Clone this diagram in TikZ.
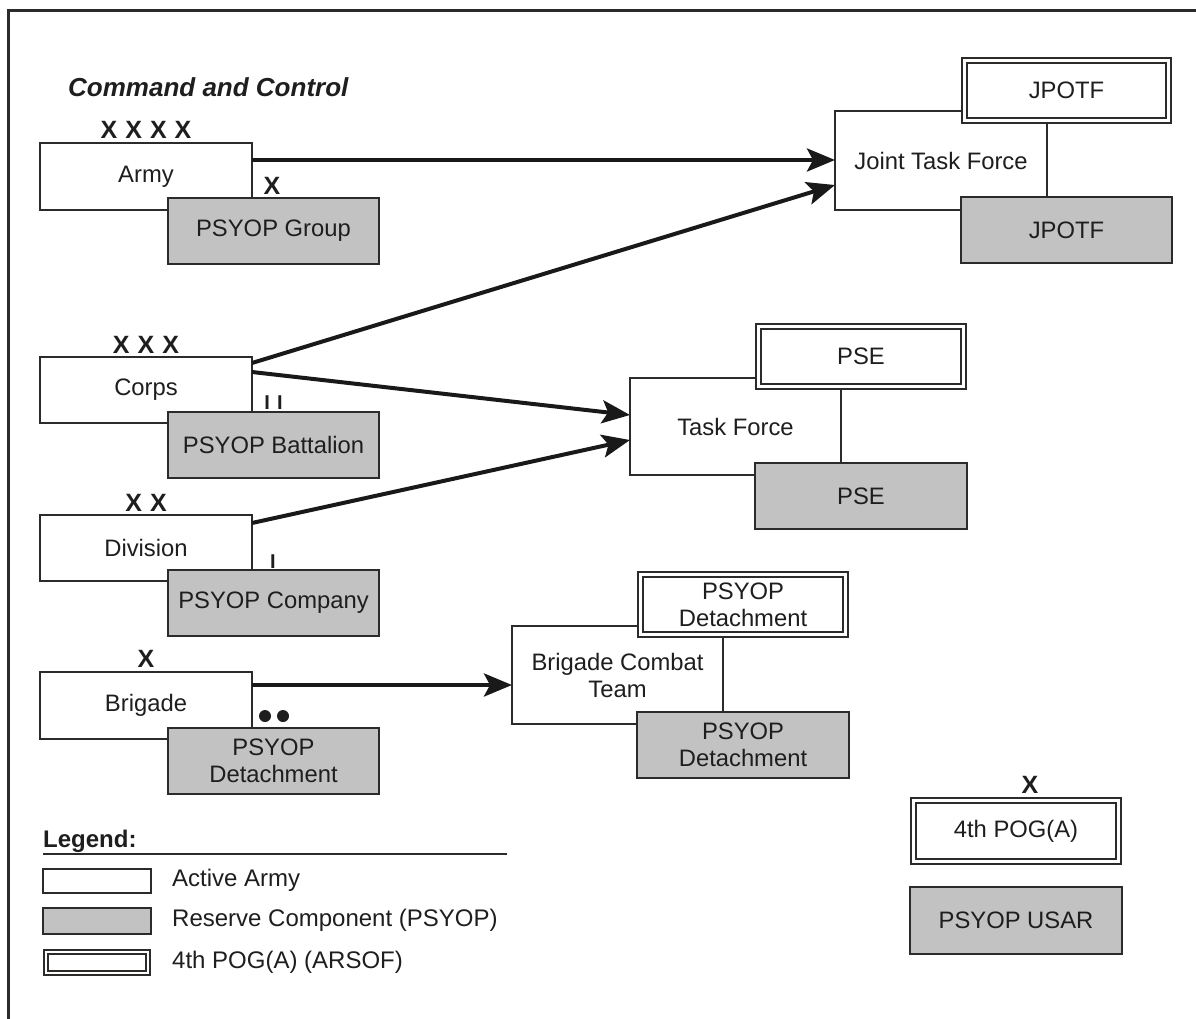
\documentclass[tikz,border=0pt]{standalone}
\usepackage{fontspec}
\setmainfont{Liberation Sans}
\usetikzlibrary{arrows.meta,calc}
\definecolor{boxgray}{RGB}{194,194,194}
\definecolor{linecol}{RGB}{45,42,42}
\definecolor{txtcol}{RGB}{30,30,30}
\tikzset{
  base/.style={draw=linecol, line width=1.8pt, inner sep=0pt, outer sep=0pt, align=center,
     text=txtcol, font=\fontsize{23.8}{27}\selectfont},
  whitebox/.style={base, fill=white},
  graybox/.style={base, fill=boxgray},
  dblbox/.style={base, fill=white, double=white, double distance=3.4pt},
  legdbl/.style={base, fill=white, double=white, double distance=2.4pt, line width=1.6pt},
  rank/.style={font=\fontsize{25}{25}\selectfont\bfseries, text=txtcol, inner sep=0pt},
  bar/.style={font=\fontsize{20}{20}\selectfont\bfseries, text=txtcol, inner sep=0pt},
  conn/.style={line width=4pt, draw=black!90, -{Stealth[length=28pt,width=23pt,inset=6pt]}},
  lgtxt/.style={anchor=west, inner sep=0pt, text=txtcol, font=\fontsize{24}{27}\selectfont},
}
\begin{document}
\begin{tikzpicture}[x=1pt,y=-1pt]
\useasboundingbox (0,0) rectangle (1196,1019);
% frame
\draw[linecol, line width=3pt] (8,1019) -- (8,11) -- (1196,11);

% title
\node[anchor=west, inner sep=0pt, text=txtcol, font=\fontsize{26}{26}\selectfont\bfseries\itshape] (title) at (68,87) {Command and Control};

% left column
\node[whitebox, minimum width=212pt, minimum height=67pt] (army) at (146,176.5) {Army};
\node[graybox, minimum width=211pt, minimum height=66pt] (pgroup) at (273.5,231) {PSYOP Group};
\node[whitebox, minimum width=212pt, minimum height=66pt] (corps) at (146,390) {Corps};
\node[graybox, minimum width=211pt, minimum height=66pt] (pbatt) at (273.5,445) {PSYOP Battalion};
\node[whitebox, minimum width=212pt, minimum height=66pt] (div) at (146,548) {Division};
\node[graybox, minimum width=211pt, minimum height=66pt] (pco) at (273.5,603) {PSYOP Company};
\node[whitebox, minimum width=212pt, minimum height=67pt] (brig) at (146,705.5) {Brigade};
\node[graybox, minimum width=211pt, minimum height=66pt] (pdet) at (273.5,761) {PSYOP\\Detachment};

% rank marks
\node[rank] (r4) at (146,130) {X\hspace{8pt}X\hspace{8pt}X\hspace{8pt}X};
\node[rank] (r3) at (146,345) {X\hspace{8pt}X\hspace{8pt}X};
\node[rank] (r2) at (146,503) {X\hspace{8pt}X};
\node[rank] (r1) at (146,659) {X};
\node[rank] (rg) at (272,186) {X};
\node[bar] (rb) at (273.5,403) {I\hspace{7pt}I};
\node[bar] (rc) at (273,562) {I};
\fill[txtcol] (265,716) circle (6pt) (283,716) circle (6pt);

% Joint task force
\node[whitebox, minimum width=212pt, minimum height=99pt] (jtf) at (941,160.5) {Joint Task Force};
\node[dblbox, minimum width=204pt, minimum height=60pt] (jpotfa) at (1066.5,90.5) {JPOTF};
\node[graybox, minimum width=211pt, minimum height=66pt] (jpotfb) at (1066.5,230) {JPOTF};

% Task force
\node[whitebox, minimum width=211pt, minimum height=97pt] (tf) at (735.5,426.5) {Task Force};
\node[dblbox, minimum width=205pt, minimum height=60pt] (psea) at (861,356.5) {PSE};
\node[graybox, minimum width=212pt, minimum height=66pt] (pseb) at (861,496) {PSE};

% Brigade combat team
\node[whitebox, minimum width=211pt, minimum height=98pt] (bct) at (617.5,675) {Brigade Combat\\Team};
\node[dblbox, minimum width=205pt, minimum height=60pt] (bdeta) at (743,604.5) {PSYOP\\Detachment};
\node[graybox, minimum width=212pt, minimum height=66pt] (bdetb) at (743,745) {PSYOP\\Detachment};

% 4th POG(A) / USAR
\node[rank] (rpog) at (1030,785) {X};
\node[dblbox, minimum width=205pt, minimum height=61pt] (pog) at (1016,831) {4th POG(A)};
\node[graybox, minimum width=212pt, minimum height=67pt] (usar) at (1016,920.5) {PSYOP USAR};

% connectors
\draw[conn] ($(army.north east)+(0,17)$) -- ($(jtf.north west)+(0,49)$);
\draw[conn] ($(corps.north east)+(0,6)$) -- ($(jtf.north west)+(0,74)$);
\draw[conn] ($(corps.north east)+(0,15)$) -- ($(tf.north west)+(0,37)$);
\draw[conn] ($(div.north east)+(0,8)$) -- ($(tf.north west)+(0,62)$);
\draw[conn] ($(brig.north east)+(0,13)$) -- ($(bct.north west)+(0,59)$);

% legend
\node[anchor=west, inner sep=0pt, text=txtcol, font=\fontsize{24}{24}\selectfont\bfseries] (legtitle) at (43,841) {Legend:};
\coordinate (legL) at (43,854);
\coordinate (legR) at (507,854);
\draw[linecol, line width=2.5pt] (legL) -- (legR);
\node[whitebox, minimum width=108pt, minimum height=24pt, line width=1.6pt] (lg1) at (97,881) {};
\node[graybox, minimum width=108pt, minimum height=26pt, line width=1.6pt] (lg2) at (97,921) {};
\node[legdbl, minimum width=102pt, minimum height=21pt] (lg3) at (97,962.5) {};
\node[lgtxt] (lt1) at (172,880) {Active Army};
\node[lgtxt] (lt2) at (172,920) {Reserve Component (PSYOP)};
\node[lgtxt] (lt3) at (172,962) {4th POG(A) (ARSOF)};
\end{tikzpicture}
\end{document}
